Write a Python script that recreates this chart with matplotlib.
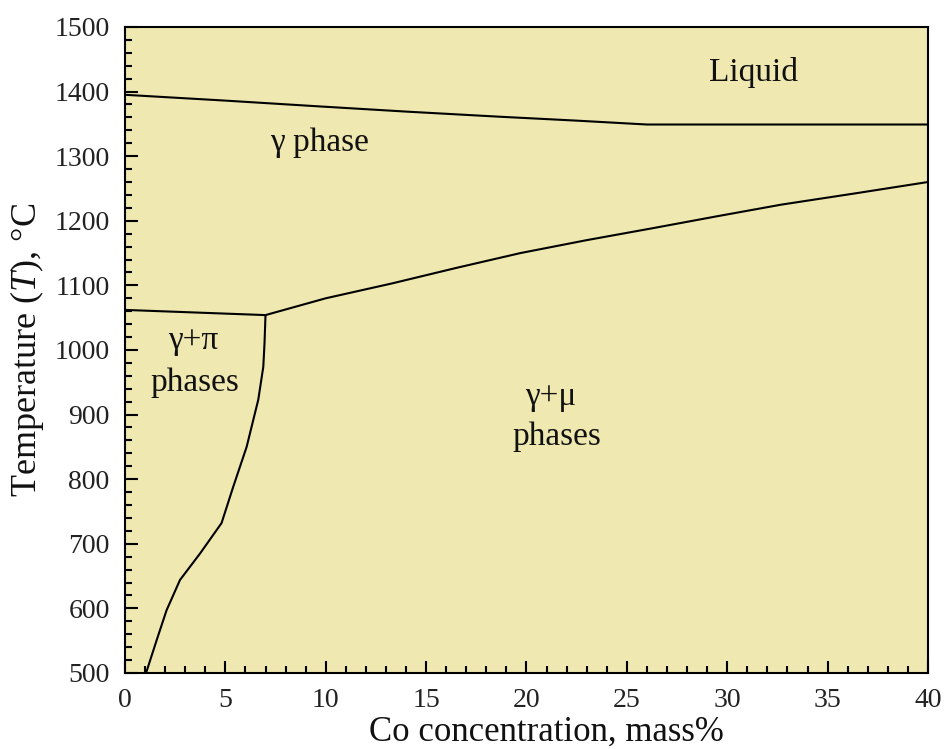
import matplotlib
matplotlib.use("Agg")
import matplotlib.pyplot as plt
from matplotlib.ticker import MultipleLocator

plt.rcParams['font.family'] = ['Liberation Serif', 'DejaVu Serif']
plt.rcParams['mathtext.fontset'] = 'custom'
plt.rcParams['mathtext.rm'] = 'Liberation Serif'
plt.rcParams['mathtext.it'] = 'Liberation Serif:italic'

# liquidus (upper boundary of gamma phase)
liq_x = [0, 5, 9.7, 14, 18.7, 22.5, 26.0, 30, 35, 40]
liq_t = [1395, 1386, 1377, 1369, 1361, 1355, 1349, 1349, 1349, 1349]

# gamma / gamma+mu boundary
mu_x = [7.0, 10, 13.3, 16.5, 19.7, 23, 26.2, 29.5, 32.7, 36.5, 40]
mu_t = [1054, 1080, 1103, 1127, 1150, 1170, 1188, 1207, 1225, 1243, 1260]

# gamma / gamma+pi boundary (horizontal)
pi_top_x = [0, 7.0]
pi_top_t = [1062, 1054]

# gamma+pi / gamma+mu boundary
pm_x = [7.0, 6.95, 6.89, 6.64, 6.06, 5.39, 4.81, 3.74, 2.74, 2.07, 1.58, 1.05]
pm_t = [1054, 1010, 974, 923, 850, 788, 732, 685, 644, 597, 551, 500]

labels = ["Liquid", "γ phase", "γ+π", "phases", "γ+μ", "phases"]
label_x = [31.3, 9.7, 3.4, 3.5, 21.2, 21.5]
label_t = [1430, 1320, 1015, 950, 927, 865]

fig = plt.figure(figsize=(9.44, 7.49), dpi=100)
ax = fig.add_axes([0.1324, 0.1015, 0.8506, 0.8625], facecolor='#efe8b1')

for xs, ts in [(liq_x, liq_t), (mu_x, mu_t), (pi_top_x, pi_top_t), (pm_x, pm_t)]:
    ax.plot(xs, ts, color='black', lw=1.5, solid_joinstyle='round')

for s, x, t in zip(labels, label_x, label_t):
    ax.text(x, t, s, fontsize=24, ha='center', va='center', color='#111111')

ax.set_xlim(0, 40)
ax.set_ylim(500, 1500)
ax.xaxis.set_major_locator(MultipleLocator(5))
ax.xaxis.set_minor_locator(MultipleLocator(1))
ax.yaxis.set_major_locator(MultipleLocator(100))
ax.yaxis.set_minor_locator(MultipleLocator(20))
ax.tick_params(which='both', direction='in', width=1.5, labelsize=20,
               labelcolor='#222222', top=False, right=False)
ax.tick_params(axis='y', pad=11)
ax.tick_params(axis='x', pad=11)
ax.tick_params(which='major', length=9)
ax.tick_params(which='minor', length=5)
for sp in ax.spines.values():
    sp.set_linewidth(1.5)

ax.set_xlabel('Co concentration, mass%', fontsize=25, color='#111111')
ax.xaxis.set_label_coords(0.525, -0.066)
ax.set_ylabel(r'Temperature ($\mathit{T}$), °C', fontsize=26, labelpad=6, color='#111111')

fig.savefig('out.png', dpi=100)
